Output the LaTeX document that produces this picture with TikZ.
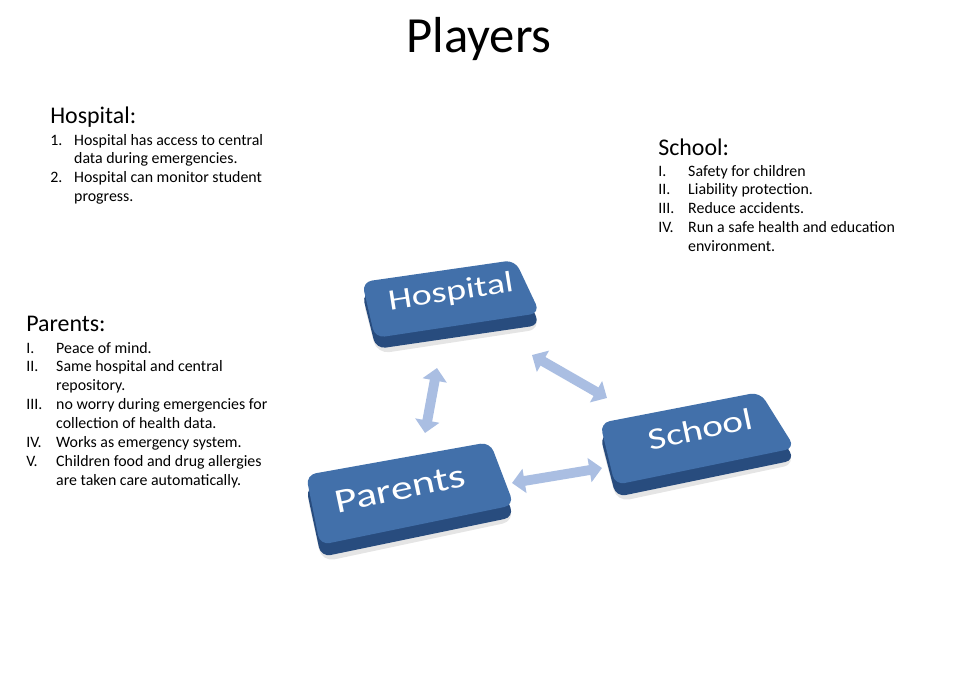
\documentclass[tikz,border=0pt]{standalone}
\usepackage{fontspec}
\setmainfont{Carlito}
\usepackage{xcolor}
\usetikzlibrary{positioning,arrows.meta}

\definecolor{keytopblue}{RGB}{66,112,170}
\definecolor{keysideblue}{RGB}{40,76,126}
\definecolor{linkblue}{RGB}{170,190,226}

\tikzset{
  keytop/.style={fill=keytopblue, rounded corners=7pt},
  keyside/.style={fill=keysideblue, rounded corners=7pt},
  keyshadow/.style={fill=black, opacity=0.10, rounded corners=9pt},
  keylabel/.style={text=white, inner sep=0pt, yscale=0.78},
  link/.style={draw=linkblue, line width=7pt, >={Triangle[width=17pt,length=9pt]}, <->},
  heading/.style={anchor=base west, inner sep=0pt, font=\fontsize{17}{20}\selectfont},
  notes/.style={anchor=base west, inner sep=0pt, font=\fontsize{11.3}{13.5}\selectfont},
}

\begin{document}
\begin{tikzpicture}[x=0.025cm, y=-0.025cm]
  \useasboundingbox (0,0) rectangle (960,698);

  % Title
  \node[anchor=base, inner sep=0pt, font=\fontsize{36}{40}\selectfont] (title) at (479,52) {Players};

  % Hospital notes
  \node[heading] (hospitalhead) at (50,123) {Hospital:};
  \node[notes] (hospitalnotes) at (50,145) {\begin{tabular}[t]{@{}p{17pt}@{}l@{}}
    1. & Hospital has access to central\\
       & data during emergencies.\\
    2. & Hospital can monitor student\\
       & progress.
  \end{tabular}};

  % School notes
  \node[heading] (schoolhead) at (658,155) {School:};
  \node[notes] (schoolnotes) at (658,176) {\begin{tabular}[t]{@{}p{21.3pt}@{}l@{}}
    I. & Safety for children\\
    II. & Liability protection.\\
    III. & Reduce accidents.\\
    IV. & Run a safe health and education\\
        & environment.
  \end{tabular}};

  % Parents notes
  \node[heading] (parentshead) at (26,331) {Parents:};
  \node[notes] (parentsnotes) at (26,353) {\begin{tabular}[t]{@{}p{21.3pt}@{}l@{}}
    I. & Peace of mind.\\
    II. & Same hospital and central\\
        & repository.\\
    III. & no worry during emergencies for\\
         & collection of health data.\\
    IV. & Works as emergency system.\\
    V. & Children food and drug allergies\\
       & are taken care automatically.
  \end{tabular}};

  % Hospital key
  \fill[keyshadow] (362,297) -- (515,275) -- (541,329) -- (377,354) -- cycle;
  \fill[keyside] (362,293) -- (515,271) -- (540,325) -- (376,349) -- cycle;
  \fill[keytop] (362,282) -- (515,260) -- (540,313) -- (375,338) -- cycle;
  \node[rotate=9, keylabel, font=\fontsize{27}{30}\selectfont] (hospital) at (451,293) {Hospital};

  % School key
  \fill[keyshadow] (600,439) -- (760,408) -- (796,464) -- (617,502) -- cycle;
  \fill[keyside] (600,435) -- (760,404) -- (795,460) -- (616,497) -- cycle;
  \fill[keytop] (600,423) -- (760,392) -- (795,448) -- (615,485) -- cycle;
  \node[rotate=12, keylabel, font=\fontsize{28}{31}\selectfont] (school) at (700,429) {School};

  % Parents key
  \fill[keyshadow] (306,491) -- (490,458) -- (515,521) -- (322,562) -- cycle;
  \fill[keyside] (306,487) -- (490,454) -- (514,517) -- (321,557) -- cycle;
  \fill[keytop] (306,475) -- (490,442) -- (514,505) -- (320,545) -- cycle;
  \node[rotate=12, keylabel, font=\fontsize{31}{34}\selectfont] (parents) at (400,489) {Parents};

  % Links
  \coordinate (hospitaldown) at (437,368);
  \coordinate (parentsup) at (425,433);
  \coordinate (hospitalright) at (532,355);
  \coordinate (schoolleft) at (607,398);
  \coordinate (parentsright) at (512,483);
  \coordinate (schoolfront) at (602,468);
  \draw[link] (hospitaldown) -- (parentsup);
  \draw[link] (hospitalright) -- (schoolleft);
  \draw[link] (parentsright) -- (schoolfront);
\end{tikzpicture}
\end{document}
